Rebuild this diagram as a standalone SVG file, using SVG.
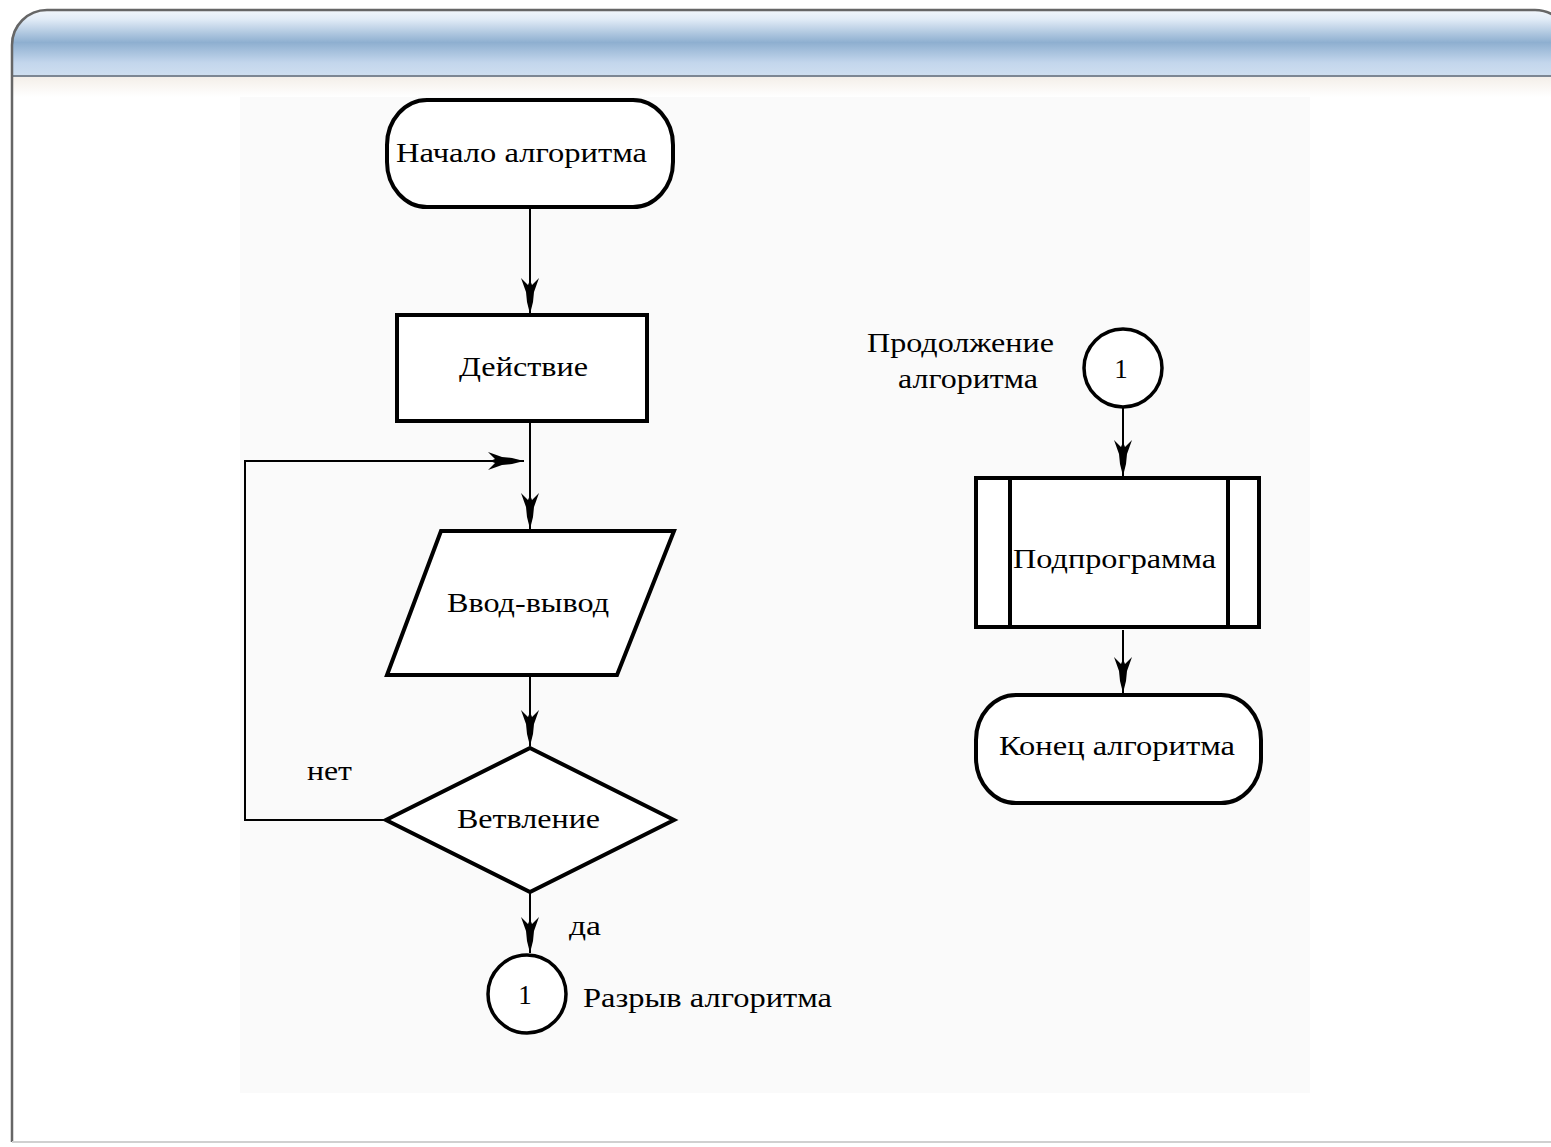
<svg xmlns="http://www.w3.org/2000/svg" width="1551" height="1147" viewBox="0 0 1551 1147">
<defs>
<linearGradient id="hdr" x1="0" y1="0" x2="0" y2="1">
<stop offset="0" stop-color="#f4f8fc"/>
<stop offset="0.15" stop-color="#e2ecf7"/>
<stop offset="0.5" stop-color="#8eafd0"/>
<stop offset="0.8" stop-color="#c3d6ec"/>
<stop offset="1" stop-color="#cfdff0"/>
</linearGradient>
<linearGradient id="shade" x1="0" y1="0" x2="0" y2="1">
<stop offset="0" stop-color="#f4efe9"/>
<stop offset="1" stop-color="#ffffff"/>
</linearGradient>
<clipPath id="frameclip"><path d="M11,1143 L11,45 A36,36 0 0 1 47,9 L1535,9 A36,36 0 0 1 1571,45 L1571,1143 Z"/></clipPath>
<marker id="arr" viewBox="-38 -11 40 22" refX="0" refY="0" markerWidth="40" markerHeight="22" markerUnits="userSpaceOnUse" orient="auto">
<path d="M0,0 L-12,-3 L-22,-4 L-36,-9 L-29,-2 L-34,0 L-29,2 L-36,9 L-22,4 L-12,3 Z" fill="#000"/>
</marker>
<style>
.shape{fill:#fff;stroke:#000;stroke-width:4}
.conn{fill:none;stroke:#000;stroke-width:2}
.t{font-family:"Liberation Serif","DejaVu Serif",serif;font-size:27px;fill:#000}
</style>
</defs>
<rect width="1551" height="1147" fill="#fff"/>
<g id="frame">
<g clip-path="url(#frameclip)">
<rect x="11" y="9" width="1560" height="67" fill="url(#hdr)"/>
<rect x="11" y="77" width="1560" height="20" fill="url(#shade)"/>
</g>
<line x1="11" y1="76" x2="1551" y2="76" stroke="#7d8793" stroke-width="2"/>
<path d="M12,1142 L12,45 A35,35 0 0 1 47,10 L1535,10 A35,35 0 0 1 1570,45" fill="none" stroke="#666" stroke-width="2.5"/>
<line x1="12" y1="1142" x2="1551" y2="1142" stroke="#d0d0d0" stroke-width="2"/>
<rect x="240" y="97" width="1070" height="996" fill="#fafafa"/>
</g>
<g id="connectors">
<line class="conn" x1="530" y1="207" x2="530" y2="314" marker-end="url(#arr)"/>
<line class="conn" x1="530" y1="421" x2="530" y2="529" marker-end="url(#arr)"/>
<line class="conn" x1="530" y1="675" x2="530" y2="746" marker-end="url(#arr)"/>
<polyline class="conn" points="386,820 245,820 245,461 524,461" marker-end="url(#arr)"/>
<line class="conn" x1="530" y1="892" x2="530" y2="953" marker-end="url(#arr)"/>
<line class="conn" x1="1123" y1="408" x2="1123" y2="476" marker-end="url(#arr)"/>
<line class="conn" x1="1123" y1="630" x2="1123" y2="693" marker-end="url(#arr)"/>
</g>
<g id="start">
<rect class="shape" x="387" y="100" width="286" height="107" rx="40" ry="45"/>
<text class="t" x="396" y="162" textLength="251" lengthAdjust="spacingAndGlyphs">Начало алгоритма</text>
</g>
<g id="action">
<rect class="shape" x="397" y="315" width="250" height="106"/>
<text class="t" x="459" y="376" textLength="129" lengthAdjust="spacingAndGlyphs">Действие</text>
</g>
<g id="io">
<polygon class="shape" points="441,531 674,531 617,675 387,675"/>
<text class="t" x="447" y="612" textLength="162" lengthAdjust="spacingAndGlyphs">Ввод-вывод</text>
</g>
<g id="decision">
<polygon class="shape" points="530,748 674,820 530,892 386,820"/>
<text class="t" x="457" y="828" textLength="143" lengthAdjust="spacingAndGlyphs">Ветвление</text>
</g>
<g id="labels">
<text class="t" x="307" y="780" textLength="45" lengthAdjust="spacingAndGlyphs">нет</text>
<text class="t" x="569" y="935" textLength="32" lengthAdjust="spacingAndGlyphs">да</text>
</g>
<g id="break">
<circle cx="527" cy="994" r="39" fill="#fff" stroke="#000" stroke-width="3.5"/>
<text class="t" x="525" y="1004" text-anchor="middle">1</text>
<text class="t" x="583" y="1007" textLength="249" lengthAdjust="spacingAndGlyphs">Разрыв алгоритма</text>
</g>
<g id="continue">
<text class="t" x="867" y="352" textLength="187" lengthAdjust="spacingAndGlyphs">Продолжение</text>
<text class="t" x="898" y="388" textLength="140" lengthAdjust="spacingAndGlyphs">алгоритма</text>
<circle cx="1123" cy="368" r="39" fill="#fff" stroke="#000" stroke-width="3.5"/>
<text class="t" x="1121" y="378" text-anchor="middle">1</text>
</g>
<g id="subprogram">
<rect class="shape" x="976" y="478" width="283" height="149"/>
<line x1="1010" y1="478" x2="1010" y2="627" stroke="#000" stroke-width="4"/>
<line x1="1228" y1="478" x2="1228" y2="627" stroke="#000" stroke-width="4"/>
<text class="t" x="1013" y="568" textLength="203" lengthAdjust="spacingAndGlyphs">Подпрограмма</text>
</g>
<g id="end">
<rect class="shape" x="976" y="695" width="285" height="108" rx="40" ry="45"/>
<text class="t" x="999" y="755" textLength="236" lengthAdjust="spacingAndGlyphs">Конец алгоритма</text>
</g>
</svg>
